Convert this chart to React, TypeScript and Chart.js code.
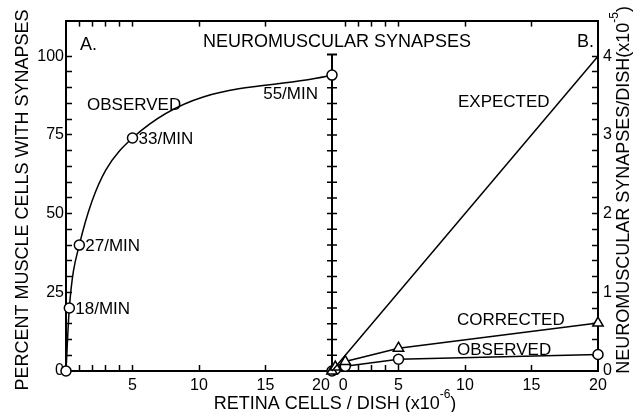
import React, { useEffect, useRef } from 'react';
import { Chart, registerables } from 'chart.js';

Chart.register(...registerables);

// ---------- data ----------
// Panel A: percent of muscle cells with synapses vs retina cells / dish (x10^-6)
const cellsA = [0, 0.25, 1, 5, 20];
const percentObserved = [0, 20, 40, 74, 94];
const rateLabels = ['', '18/MIN', '27/MIN', '33/MIN', '55/MIN'];
const percentErrorHigh = 100.5; // error bar top of last point

// Panel B: neuromuscular synapses / dish (x10^-5)
const cellsB = [0, 0.25, 1, 5, 20];
const synapsesObserved = [0, 0.02, 0.06, 0.15, 0.21];
const synapsesCorrected = [0, 0.05, 0.12, 0.29, 0.61];
const expectedCells = [0, 20];
const synapsesExpected = [0, 4.0];

// tick labels / tick marks
const xTickMarks = [1, 2, 3, 4, 5, 10, 15];
const xLabelsA = [5, 10, 15, 20];
const xLabelsB = [0, 5, 10, 15, 20];
const yLabelsA = [0, 25, 50, 75, 100];
const yLabelsB = [0, 1, 2, 3, 4];

const FONT = "'Liberation Sans', Arial, sans-serif";
const BLACK = '#000';
const CLEAR = 'rgba(0,0,0,0)';

const near = (a: number, b: number) => Math.abs(a - b) < 1e-6;

const xMarkColor = (c: any) => {
  const v = c.tick ? c.tick.value : NaN;
  return xTickMarks.some((t) => near(t, v)) ? BLACK : CLEAR;
};

type Part = { t: string; sup?: boolean };

function drawRich(ctx: CanvasRenderingContext2D, parts: Part[], x: number, y: number, rot: number, size: number) {
  const mainFont = `${size}px ${FONT}`;
  const supFont = `${Math.round(size * 0.65)}px ${FONT}`;
  ctx.save();
  ctx.translate(x, y);
  ctx.rotate(rot);
  ctx.fillStyle = BLACK;
  ctx.textBaseline = 'middle';
  ctx.textAlign = 'left';
  let total = 0;
  const widths = parts.map((p) => {
    ctx.font = p.sup ? supFont : mainFont;
    const w = ctx.measureText(p.t).width;
    total += w;
    return w;
  });
  let cx = -total / 2;
  parts.forEach((p, i) => {
    ctx.font = p.sup ? supFont : mainFont;
    ctx.fillText(p.t, cx, p.sup ? -size * 0.5 : 0);
    cx += widths[i];
  });
  ctx.restore();
}

const overlay = {
  id: 'overlay',
  beforeDatasetsDraw(chart: any) {
    const { ctx, scales } = chart;
    const xA = scales.xA;
    const yA = scales.yA;
    const yB = scales.yB;
    const x = xA.getPixelForValue(cellsA[cellsA.length - 1]);
    const yTop = yA.getPixelForValue(percentErrorHigh);
    const yBot = yA.getPixelForValue(0);
    ctx.save();
    ctx.strokeStyle = BLACK;
    ctx.lineWidth = 2;
    ctx.beginPath();
    ctx.moveTo(x, yTop);
    ctx.lineTo(x, yBot);
    ctx.moveTo(x - 5, yTop);
    ctx.lineTo(x + 5, yTop);
    ctx.stroke();
    ctx.lineWidth = 1.5;
    ctx.beginPath();
    yB.ticks.forEach((t: any) => {
      if (t.value > 0.1 && t.value < 3.7) {
        const y = yB.getPixelForValue(t.value);
        ctx.moveTo(x - 5, y);
        ctx.lineTo(x + 5, y);
      }
    });
    ctx.stroke();
    ctx.restore();
  },
  afterDraw(chart: any) {
    const { ctx, scales, chartArea } = chart;
    const xA = scales.xA;
    const yA = scales.yA;
    const xB = scales.xB;
    const yB = scales.yB;

    // axis titles
    drawRich(ctx, [{ t: 'PERCENT MUSCLE CELLS WITH SYNAPSES' }], 23, 200, -Math.PI / 2, 18);
    drawRich(
      ctx,
      [{ t: 'NEUROMUSCULAR SYNAPSES/DISH(x10' }, { t: '-5', sup: true }, { t: ')' }],
      624,
      190,
      -Math.PI / 2,
      18
    );
    drawRich(ctx, [{ t: 'RETINA CELLS / DISH (x10' }, { t: '-6', sup: true }, { t: ')' }], 335, 404, 0, 18);
    drawRich(ctx, [{ t: 'NEUROMUSCULAR SYNAPSES' }], (chartArea.left + chartArea.right) / 2 + 5, 42, 0, 18);

    ctx.save();
    ctx.fillStyle = BLACK;
    ctx.textBaseline = 'middle';
    ctx.textAlign = 'left';
    ctx.font = `18px ${FONT}`;
    ctx.fillText('A.', xA.getPixelForValue(1.05), yA.getPixelForValue(103.5));
    ctx.fillText('B.', xB.getPixelForValue(18.42), yB.getPixelForValue(4.18));

    ctx.font = `17px ${FONT}`;
    ctx.fillText('OBSERVED', xA.getPixelForValue(1.58), yA.getPixelForValue(84.3));
    ctx.fillText('EXPECTED', xB.getPixelForValue(9.47), yB.getPixelForValue(3.41));
    ctx.fillText('CORRECTED', xB.getPixelForValue(9.4), yB.getPixelForValue(0.64));
    ctx.fillText('OBSERVED', xB.getPixelForValue(9.4), yB.getPixelForValue(0.264));

    // rate labels next to points
    cellsA.forEach((cx, i) => {
      const label = rateLabels[i];
      if (!label) return;
      const px = xA.getPixelForValue(cx);
      const py = yA.getPixelForValue(percentObserved[i]);
      if (i === cellsA.length - 1) {
        ctx.textAlign = 'right';
        ctx.fillText(label, px - 14, py + 19);
      } else {
        ctx.textAlign = 'left';
        ctx.fillText(label, px + 6, py + 1);
      }
    });
    ctx.restore();
  },
};

export default function App() {
  const ref = useRef<HTMLCanvasElement | null>(null);

  useEffect(() => {
    if (!ref.current) return;
    const tickFont = { family: FONT, size: 16 };
    const xBase = (pos: 'bottom' | 'top', stack: string, labels: number[] | null, pad: number, h: number, junction: 'left' | 'right') => ({
      type: 'linear',
      position: pos,
      stack,
      stackWeight: 1,
      min: 0,
      max: 20,
      border: { display: true, color: BLACK, width: 2 },
      grid: { drawOnChartArea: false, drawTicks: true, tickLength: -6, tickWidth: 1.5, tickColor: xMarkColor },
      ticks: {
        display: labels !== null,
        stepSize: 1,
        autoSkip: false,
        maxRotation: 0,
        minRotation: 0,
        includeBounds: false,
        padding: pad,
        color: BLACK,
        font: tickFont,
        callback: (v: any) => {
          if (!labels || !labels.some((l) => near(l, v))) return '';
          if (junction === 'left' && near(v, 20)) return '20     ';
          if (junction === 'right' && near(v, 0)) return '     0';
          return String(v);
        },
      },
      afterFit: (s: any) => {
        s.height = h;
      },
    });

    const chart = new Chart(ref.current, {
      type: 'line',
      data: {
        datasets: [
          {
            label: 'Observed (A)',
            xAxisID: 'xA',
            yAxisID: 'yA',
            data: cellsA.map((x, i) => ({ x, y: percentObserved[i] })),
            borderColor: BLACK,
            borderWidth: 1.5,
            cubicInterpolationMode: 'monotone',
            pointStyle: 'circle',
            pointRadius: 5,
            pointBackgroundColor: '#fff',
            pointBorderColor: BLACK,
            pointBorderWidth: 1.5,
            clip: false,
          } as any,
          {
            label: 'Expected',
            xAxisID: 'xB',
            yAxisID: 'yB',
            data: expectedCells.map((x, i) => ({ x, y: synapsesExpected[i] })),
            borderColor: BLACK,
            borderWidth: 1.5,
            pointRadius: 0,
            tension: 0,
            clip: false,
          } as any,
          {
            label: 'Corrected',
            xAxisID: 'xB',
            yAxisID: 'yB',
            data: cellsB.map((x, i) => ({ x, y: synapsesCorrected[i] })),
            borderColor: BLACK,
            borderWidth: 1.5,
            tension: 0,
            pointStyle: 'triangle',
            pointRadius: 6,
            pointBackgroundColor: '#fff',
            pointBorderColor: BLACK,
            pointBorderWidth: 1.5,
            clip: false,
          } as any,
          {
            label: 'Observed (B)',
            xAxisID: 'xB',
            yAxisID: 'yB',
            data: cellsB.map((x, i) => ({ x, y: synapsesObserved[i] })),
            borderColor: BLACK,
            borderWidth: 1.5,
            tension: 0,
            pointStyle: 'circle',
            pointRadius: 5,
            pointBackgroundColor: '#fff',
            pointBorderColor: BLACK,
            pointBorderWidth: 1.5,
            clip: false,
          } as any,
        ],
      },
      options: {
        responsive: false,
        animation: false,
        devicePixelRatio: 1,
        layout: { padding: 0 },
        plugins: { legend: { display: false }, tooltip: { enabled: false }, title: { display: false } },
        scales: {
          xA: xBase('bottom', 'bottom', xLabelsA, 11, 41, 'left'),
          xB: xBase('bottom', 'bottom', xLabelsB, 11, 41, 'right'),
          xAt: xBase('top', 'top', null, 0, 17, 'left'),
          xBt: xBase('top', 'top', null, 0, 17, 'right'),
          yA: {
            type: 'linear',
            position: 'left',
            min: 0,
            max: 111.3,
            border: { display: true, color: BLACK, width: 2 },
            grid: {
              drawOnChartArea: false,
              tickLength: -6,
              tickWidth: 1.5,
              tickColor: (c: any) => {
                const v = c.tick ? c.tick.value : NaN;
                return v > 0.1 && v < 100.1 ? BLACK : CLEAR;
              },
            },
            ticks: {
              stepSize: 5,
              autoSkip: false,
              includeBounds: false,
              padding: 8,
              color: BLACK,
              font: tickFont,
              callback: (v: any) => (yLabelsA.some((l) => near(l, v)) ? String(v) : ''),
            },
            afterFit: (s: any) => {
              s.width = 66;
            },
          },
          yB: {
            type: 'linear',
            position: 'right',
            min: 0,
            max: 4.453,
            border: { display: true, color: BLACK, width: 2 },
            grid: {
              drawOnChartArea: false,
              tickLength: -6,
              tickWidth: 1.5,
              tickColor: (c: any) => {
                const v = c.tick ? c.tick.value : NaN;
                return v > 0.1 && v < 4.01 ? BLACK : CLEAR;
              },
            },
            ticks: {
              stepSize: 0.2,
              autoSkip: false,
              includeBounds: false,
              padding: 11,
              color: BLACK,
              font: tickFont,
              callback: (v: any) => {
                const l = yLabelsB.find((k) => near(k, v));
                return l === undefined ? '' : String(l);
              },
            },
            afterFit: (s: any) => {
              s.width = 35;
            },
          },
        },
      } as any,
      plugins: [overlay],
    });
    return () => chart.destroy();
  }, []);

  return (
    <div style={{ position: 'fixed', left: 0, top: 0, width: 633, height: 412, background: '#fff' }}>
      <canvas ref={ref} width={633} height={412} style={{ display: 'block' }} />
    </div>
  );
}
